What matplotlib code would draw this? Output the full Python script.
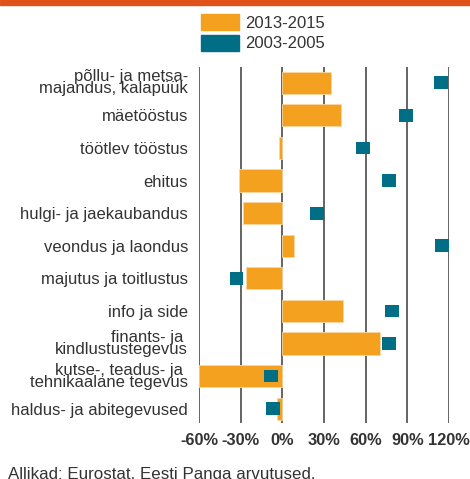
import matplotlib
matplotlib.use("Agg")
import matplotlib.pyplot as plt
from matplotlib.patches import Patch, Rectangle

plt.rcParams['font.family'] = ['Liberation Sans', 'DejaVu Sans']

categories = [
    "põllu- ja metsa-\nmajandus, kalapüük",
    "mäetööstus",
    "töötlev tööstus",
    "ehitus",
    "hulgi- ja jaekaubandus",
    "veondus ja laondus",
    "majutus ja toitlustus",
    "info ja side",
    "finants- ja \nkindlustustegevus",
    "kutse-, teadus- ja \ntehnikaalane tegevus",
    "haldus- ja abitegevused",
]
recent = [35, 42.5, -2.5, -31, -28, 8.5, -26.5, 43.5, 70, -60, -3.5]      # 2013-2015
earlier = [114, 89, 58, 77, 25, 115, -33, 79, 77, -8, -7]                 # 2003-2005
series_names = ["2013-2015", "2003-2005"]
xticks = [-60, -30, 0, 30, 60, 90, 120]

orange = "#F4A11F"
teal = "#006E85"
txt = "#333333"

fig = plt.figure(figsize=(4.7, 4.79), dpi=100)
ax = fig.add_axes([199/470, 1-423/479, 250/470, 356/479])

y = list(range(len(categories)))
ax.barh(y, recent, height=0.68, color=orange, edgecolor="#FAD7A0", linewidth=0.6, zorder=3)
sq_w = 10
ax.barh(y, [sq_w]*len(y), left=[v - sq_w/2 for v in earlier], height=0.39,
        color=teal, zorder=4)

ax.set_xlim(-60, 120)
ax.set_ylim(len(categories) - 0.56, -0.485)
ax.set_xticks(xticks)
ax.set_xticklabels([f"{t}%" for t in xticks], fontsize=11.8, fontweight="bold", color=txt)
ax.set_yticks(y)
ax.set_yticklabels(categories, fontsize=12, color=txt, linespacing=0.75)
ax.tick_params(axis="both", length=0)
ax.tick_params(axis="x", pad=7)
ax.tick_params(axis="y", pad=8)
for s in ax.spines.values():
    s.set_visible(False)
for t in xticks:
    ax.axvline(t, color="#3a3a3a", lw=1.1, zorder=1)

# top stripe
fig.patches.append(Rectangle((0, 1-5/479), 1, 5/479, transform=fig.transFigure,
                             color="#E0521A", zorder=5))

handles = [Patch(color=orange), Patch(color=teal)]
fig.legend(handles, series_names, loc="upper left", bbox_to_anchor=(201/470, 1-14/479),
           frameon=False, fontsize=12, handlelength=2.3, handleheight=1.1,
           labelspacing=0.25, handletextpad=0.35, borderpad=0, borderaxespad=0,
           labelcolor=txt)

fig.text(8/470, 1-467/479, "Allikad: Eurostat, Eesti Panga arvutused.",
         fontsize=12.2, color=txt, va="top", ha="left")

fig.savefig("out.png", dpi=100)
